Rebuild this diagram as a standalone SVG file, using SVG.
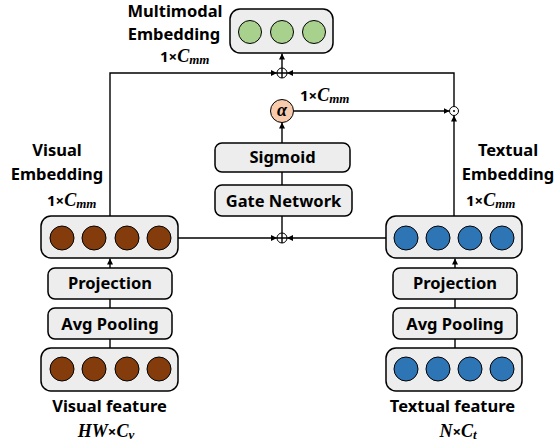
<svg xmlns="http://www.w3.org/2000/svg" width="555" height="447" viewBox="0 0 555 447">
<defs>
<marker id="ah" viewBox="0 0 6 6" refX="6" refY="3" markerWidth="6" markerHeight="6" markerUnits="userSpaceOnUse" orient="auto">
<path d="M0,0 L6,3 L0,6 z" fill="#000"/>
</marker>
</defs>
<style>
.box{fill:#ededed;stroke:#000;stroke-width:1.5}
.lbl{font-family:"Noto Sans","Open Sans",sans-serif;font-weight:bold;font-size:16.5px;fill:#000;text-anchor:middle}
.math{font-family:"Liberation Serif",serif;font-weight:bold;font-size:18px;fill:#000}
.it{font-style:italic}
.sub{font-style:italic;font-size:13px}
.num{font-family:"Noto Sans","Open Sans",sans-serif;font-weight:bold;font-size:15px}
.ln{fill:none;stroke:#000;stroke-width:1.4}
.arr{fill:none;stroke:#000;stroke-width:1.4;marker-end:url(#ah)}
.br{fill:#843c0c;stroke:#000;stroke-width:1}
.bl{fill:#2e75b6;stroke:#000;stroke-width:1}
.gr{fill:#a9d18e;stroke:#000;stroke-width:1}
.op{fill:#fff;stroke:#000;stroke-width:1}
</style>
<g id="connectors">
<path class="arr" d="M110,216 V73 H277"/>
<path class="arr" d="M454,106.5 V73 H287"/>
<path class="arr" d="M282,68 V53.5"/>
<path class="arr" d="M178,238 H277"/>
<path class="arr" d="M386,238 H287"/>
<path class="ln" d="M282,233 V216"/>
<path class="ln" d="M282,185 V172"/>
<path class="arr" d="M282,143 V122.5"/>
<path class="arr" d="M294,111 H449.5"/>
<path class="arr" d="M454,216 V115.5"/>
<path class="arr" d="M110,268 V258.5"/>
<path class="arr" d="M455,268 V258.5"/>
<path class="ln" d="M110,308 V299"/>
<path class="ln" d="M455,308 V299"/>
<path class="ln" d="M110,348 V339"/>
<path class="ln" d="M455,348 V339"/>
</g>
<g id="multimodal">
<rect class="box" x="230" y="9" width="103" height="44" rx="10"/>
<circle class="gr" cx="250" cy="32" r="11.5"/>
<circle class="gr" cx="282" cy="32" r="11.5"/>
<circle class="gr" cx="314" cy="32" r="11.5"/>
<text class="lbl" x="175" y="17">Multimodal</text>
<text class="lbl" x="174" y="40">Embedding</text>
<text class="math" x="160" y="62"><tspan class="num">1×</tspan><tspan class="it">C</tspan><tspan class="sub" dy="2">mm</tspan></text>
</g>
<g id="oplus-top">
<circle class="op" cx="282" cy="73" r="5"/>
<path class="ln" d="M277,73 H287 M282,68 V78" stroke-width="1"/>
</g>
<g id="alpha">
<circle cx="282" cy="111" r="11.5" fill="#f8cbad" stroke="#000" stroke-width="1"/>
<text class="math it" x="282" y="116" text-anchor="middle" font-size="19">α</text>
<text class="math" x="300" y="101"><tspan class="num">1×</tspan><tspan class="it">C</tspan><tspan class="sub" dy="2">mm</tspan></text>
</g>
<g id="odot">
<circle class="op" cx="454" cy="111" r="4.5"/>
<circle cx="454" cy="111" r="1" fill="#000"/>
</g>
<g id="sigmoid">
<rect class="box" x="215" y="143" width="135" height="29" rx="7"/>
<text class="lbl" x="282.5" y="163">Sigmoid</text>
</g>
<g id="gate">
<rect class="box" x="215" y="185" width="137" height="31" rx="7"/>
<text class="lbl" x="283.5" y="207">Gate Network</text>
</g>
<g id="oplus-bottom">
<circle class="op" cx="282" cy="238" r="5"/>
<path class="ln" d="M277,238 H287 M282,233 V243" stroke-width="1"/>
</g>
<g id="visual-embedding">
<rect class="box" x="41" y="216" width="137" height="42" rx="10"/>
<circle class="br" cx="62" cy="238" r="12"/>
<circle class="br" cx="94" cy="238" r="12"/>
<circle class="br" cx="127" cy="238" r="12"/>
<circle class="br" cx="159" cy="238" r="12"/>
<text class="lbl" x="57" y="156">Visual</text>
<text class="lbl" x="57" y="180">Embedding</text>
<text class="math" x="47" y="206"><tspan class="num">1×</tspan><tspan class="it">C</tspan><tspan class="sub" dy="2">mm</tspan></text>
</g>
<g id="textual-embedding">
<rect class="box" x="386" y="216" width="136" height="42" rx="10"/>
<circle class="bl" cx="406" cy="238" r="12"/>
<circle class="bl" cx="438" cy="238" r="12"/>
<circle class="bl" cx="470" cy="238" r="12"/>
<circle class="bl" cx="502" cy="238" r="12"/>
<text class="lbl" x="508" y="156">Textual</text>
<text class="lbl" x="508" y="180">Embedding</text>
<text class="math" x="466" y="206"><tspan class="num">1×</tspan><tspan class="it">C</tspan><tspan class="sub" dy="2">mm</tspan></text>
</g>
<g id="visual-projection">
<rect class="box" x="48" y="268" width="124" height="31" rx="7"/>
<text class="lbl" x="110" y="289">Projection</text>
</g>
<g id="visual-pooling">
<rect class="box" x="48" y="308" width="124" height="31" rx="7"/>
<text class="lbl" x="110" y="330">Avg Pooling</text>
</g>
<g id="visual-feature">
<rect class="box" x="41" y="348" width="137" height="43" rx="10"/>
<circle class="br" cx="62" cy="369" r="12"/>
<circle class="br" cx="94" cy="369" r="12"/>
<circle class="br" cx="127" cy="369" r="12"/>
<circle class="br" cx="159" cy="369" r="12"/>
<text class="lbl" x="109.5" y="412">Visual feature</text>
<text class="math" x="106" y="437" text-anchor="middle"><tspan class="it">HW</tspan><tspan class="num">×</tspan><tspan class="it">C</tspan><tspan class="sub" dy="2">v</tspan></text>
</g>
<g id="textual-projection">
<rect class="box" x="393" y="268" width="124" height="31" rx="7"/>
<text class="lbl" x="455" y="289">Projection</text>
</g>
<g id="textual-pooling">
<rect class="box" x="393" y="308" width="124" height="31" rx="7"/>
<text class="lbl" x="455" y="330">Avg Pooling</text>
</g>
<g id="textual-feature">
<rect class="box" x="386" y="348" width="136" height="43" rx="10"/>
<circle class="bl" cx="406" cy="369" r="12"/>
<circle class="bl" cx="438" cy="369" r="12"/>
<circle class="bl" cx="470" cy="369" r="12"/>
<circle class="bl" cx="502" cy="369" r="12"/>
<text class="lbl" x="452.5" y="412">Textual feature</text>
<text class="math" x="458" y="437" text-anchor="middle"><tspan class="it">N</tspan><tspan class="num">×</tspan><tspan class="it">C</tspan><tspan class="sub" dy="2">t</tspan></text>
</g>
</svg>
